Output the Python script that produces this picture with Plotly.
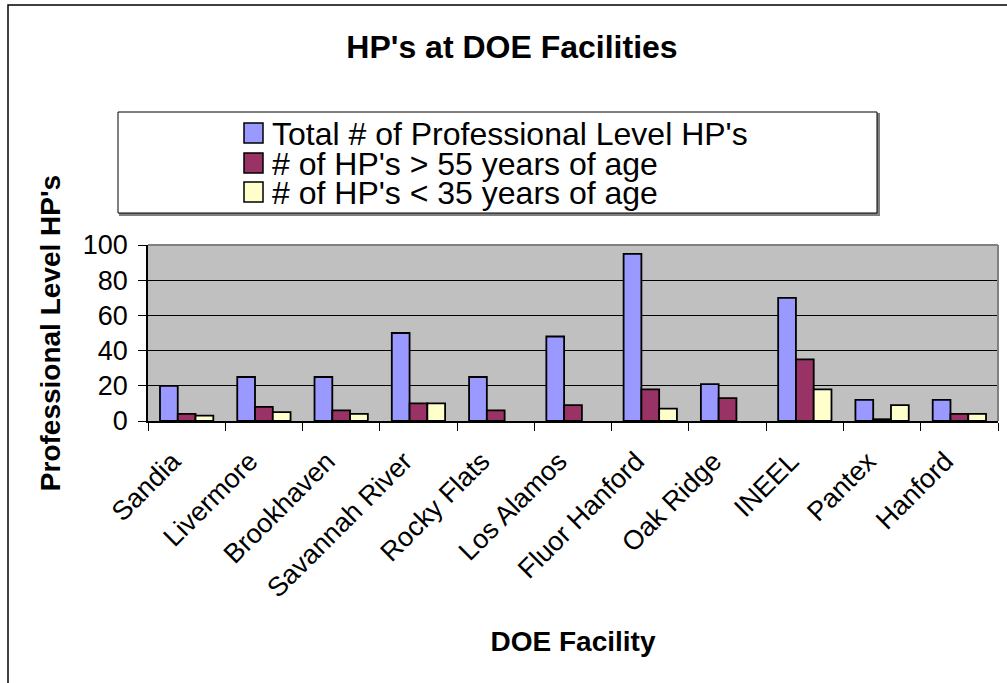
import plotly.graph_objects as go

facilities = ["Sandia", "Livermore", "Brookhaven", "Savannah River", "Rocky Flats",
              "Los Alamos", "Fluor Hanford", "Oak Ridge", "INEEL", "Pantex", "Hanford"]
total_hps = [20, 25, 25, 50, 25, 48, 95, 21, 70, 12, 12]
over_55 = [4, 8, 6, 10, 6, 9, 18, 13, 35, 1, 4]
under_35 = [3, 5, 4, 10, None, None, 7, None, 18, 9, 4]

series_names = ["Total # of Professional Level HP's",
                "# of HP's > 55 years of age",
                "# of HP's < 35 years of age"]
series_colors = ["#9999FF", "#993366", "#FFFFCC"]

W, H = 1007, 683
L, R, T, B = 148, 9, 245, 262
FONT = "Liberation Sans, Arial, sans-serif"


def xp(px):
    # pixel -> paper x
    return (px - L) / (W - L - R)


def yp(py):
    # pixel -> paper y
    return (H - B - py) / (H - T - B)


fig = go.Figure()
for name, vals, col in zip(series_names, [total_hps, over_55, under_35], series_colors):
    fig.add_trace(go.Bar(x=facilities, y=vals, name=name, showlegend=False,
                         marker=dict(color=col, line=dict(color="black", width=1.8))))

fig.update_layout(
    width=W, height=H,
    margin=dict(l=L, r=R, t=T, b=B, autoexpand=False),
    paper_bgcolor="white", plot_bgcolor="#C0C0C0",
    barmode="group", bargap=0.31, bargroupgap=0,
    font=dict(family=FONT, color="black"),
    title=dict(text="<b>HP's at DOE Facilities</b>", x=512 / W, xanchor="center",
               y=1 - 47 / H, yanchor="middle", font=dict(size=32)),
)

fig.update_yaxes(range=[0, 100], dtick=20, showgrid=True, gridcolor="black", gridwidth=1,
                 showline=True, linecolor="black", linewidth=1.5,
                 ticks="outside", ticklen=8, tickcolor="black",
                 tickfont=dict(size=27), ticklabelstandoff=5, automargin=False,
                 title=dict(text="<b>Professional Level HP's</b>", font=dict(size=28), standoff=14),
                 zeroline=False)
fig.update_xaxes(showline=True, linecolor="black", linewidth=1.5,
                 ticks="outside", tickson="boundaries", ticklen=8, tickcolor="black",
                 tickangle=-45, tickfont=dict(size=27),
                 ticklabelshift=-14, ticklabelstandoff=12, automargin=False,
                 title=dict(text="<b>DOE Facility</b>", font=dict(size=28), standoff=29))

# plot area border, top and right
fig.add_shape(type="line", xref="paper", yref="paper", x0=0, x1=1, y0=1, y1=1,
              line=dict(color="#808080", width=2))
fig.add_shape(type="line", xref="paper", yref="paper", x0=1, x1=1, y0=0, y1=1,
              line=dict(color="#808080", width=2))

# outer chart border
fig.add_shape(type="rect", xref="paper", yref="paper", x0=xp(8), x1=xp(1030), y0=yp(5), y1=yp(720),
              line=dict(color="black", width=1.5), layer="below")

# legend box with shadow
fig.add_shape(type="rect", xref="paper", yref="paper", x0=xp(120), x1=xp(879), y0=yp(114), y1=yp(215),
              line=dict(color="#808080", width=2), fillcolor="#808080", layer="below")
fig.add_shape(type="rect", xref="paper", yref="paper", x0=xp(118), x1=xp(877), y0=yp(112), y1=yp(213),
              line=dict(color="black", width=1), fillcolor="white", layer="below")

row_y = [133, 163, 192]
for name, col, ry in zip(series_names, series_colors, row_y):
    fig.add_shape(type="rect", xref="paper", yref="paper",
                  x0=xp(244), x1=xp(263), y0=yp(ry - 10), y1=yp(ry + 10),
                  line=dict(color="black", width=1.5), fillcolor=col)
    fig.add_annotation(text=name, xref="paper", yref="paper", x=xp(270), y=yp(ry + 1),
                       xanchor="left", yanchor="middle", showarrow=False,
                       font=dict(size=32))

# page body has a default 8px margin, drop it so the chart sits at 0,0
fig.write_html("out.html", config={"displayModeBar": False},
               post_script="document.body.style.margin='0';")
